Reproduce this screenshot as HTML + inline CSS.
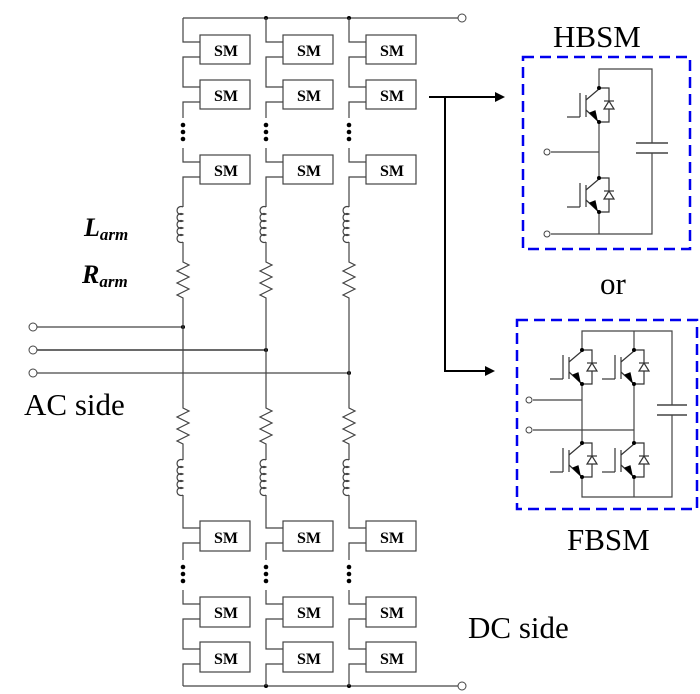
<!DOCTYPE html>
<html><head><meta charset="utf-8"><style>
html,body{margin:0;padding:0;background:#fff;}
svg{display:block;}
.sm{font-family:"Liberation Serif",serif;font-weight:bold;font-size:16px;}
.big{font-family:"Liberation Serif",serif;font-size:31px;}
.lab{font-family:"Liberation Serif",serif;font-size:26px;font-weight:bold;font-style:italic;}
.sub{font-size:17px;}
</style></head><body>
<svg width="700" height="694" viewBox="0 0 700 694" xmlns="http://www.w3.org/2000/svg">
<defs>
<g id="igbt" fill="none" stroke="#333" stroke-width="1.2">
  <line x1="-13" y1="7" x2="-13" y2="29"/>
  <line x1="-19" y1="5" x2="-19" y2="29"/>
  <line x1="-32" y1="29" x2="-19" y2="29"/>
  <line x1="0" y1="1" x2="-13" y2="12"/>
  <line x1="-13" y1="22" x2="0" y2="34"/>
  <polygon points="-2,32 -9,25 -4,23" fill="#000" stroke="#000"/>
  <polyline points="0,0 10,0 10,34 0,34"/>
  <polygon points="10,13 5,21 15,21" fill="#fff"/>
  <line x1="5" y1="13" x2="15" y2="13"/>
  <circle cx="0" cy="0" r="2" fill="#000" stroke="none"/>
  <circle cx="0" cy="34" r="2" fill="#000" stroke="none"/>
</g>
<g id="c1">
<g fill="none" stroke="#444" stroke-width="1.2">
<polyline points="0,18 0,42 17,42"/>
<polyline points="17,57 0,57 0,87 17,87"/>
<polyline points="17,102 0,102 0,118"/>
<polyline points="0,148 0,162 17,162"/>
<polyline points="17,177 0,177 0,207"/>
<path d="M0,207 a4,4 0 1 0 0,7 a4,4 0 1 0 0,7 a4,4 0 1 0 0,7 a4,4 0 1 0 0,7 a4,4 0 1 0 0,7"/>
<polyline points="0,242 0,262 6,265 -6,271 6,277 -6,283 6,289 -6,295 0,298 0,408 6,411 -6,417 6,423 -6,429 6,435 -6,441 0,444 0,460"/>
<path d="M0,460 a4,4 0 1 0 0,7 a4,4 0 1 0 0,7 a4,4 0 1 0 0,7 a4,4 0 1 0 0,7 a4,4 0 1 0 0,7"/>
<polyline points="0,495 0,528 17,528"/>
<polyline points="17,543 0,543 0,560"/>
<polyline points="0,590 0,604 17,604"/>
<polyline points="17,619 0,619 0,649 17,649"/>
<polyline points="17,664 0,664 0,686"/>
<rect x="17" y="35" width="50" height="29" fill="#fff"/>
<rect x="17" y="80" width="50" height="29" fill="#fff"/>
<rect x="17" y="155" width="50" height="29" fill="#fff"/>
<rect x="17" y="521" width="50" height="30" fill="#fff"/>
<rect x="17" y="597" width="50" height="30" fill="#fff"/>
<rect x="17" y="642" width="50" height="30" fill="#fff"/>
</g>
<g fill="#000">
<circle cx="0" cy="125" r="2.3"/><circle cx="0" cy="132" r="2.3"/><circle cx="0" cy="139" r="2.3"/>
<circle cx="0" cy="567" r="2.3"/><circle cx="0" cy="574" r="2.3"/><circle cx="0" cy="581" r="2.3"/>
</g>
</g>
</defs>

<g stroke="#444" stroke-width="1.2" fill="none">
<line x1="183" y1="18" x2="458" y2="18"/>
<line x1="183" y1="686" x2="458" y2="686"/>
<line x1="37" y1="327" x2="183" y2="327"/>
<line x1="37" y1="350" x2="266" y2="350" stroke="#111"/>
<line x1="37" y1="373" x2="349" y2="373" stroke="#666" stroke-width="1.5"/>
</g>
<g fill="#fff" stroke="#444">
<circle cx="462" cy="18" r="4"/><circle cx="462" cy="686" r="4"/>
<circle cx="33" cy="327" r="4"/><circle cx="33" cy="350" r="4"/><circle cx="33" cy="373" r="4"/>
</g>
<g fill="#000">
<circle cx="266" cy="18" r="2"/><circle cx="349" cy="18" r="2"/>
<circle cx="266" cy="686" r="2"/><circle cx="349" cy="686" r="2"/>
<circle cx="183" cy="327" r="2"/><circle cx="266" cy="350" r="2"/><circle cx="349" cy="373" r="2"/>
</g>

<use href="#c1" transform="translate(183,0)"/>
<use href="#c1" transform="translate(266,0)"/>
<use href="#c1" transform="translate(349,0)"/>

<g class="sm" fill="#000" text-anchor="middle">
<text x="226" y="56">SM</text><text x="226" y="101">SM</text><text x="226" y="176">SM</text>
<text x="226" y="543">SM</text><text x="226" y="618">SM</text><text x="226" y="664">SM</text>
<text x="309" y="56">SM</text><text x="309" y="101">SM</text><text x="309" y="176">SM</text>
<text x="309" y="543">SM</text><text x="309" y="618">SM</text><text x="309" y="664">SM</text>
<text x="392" y="56">SM</text><text x="392" y="101">SM</text><text x="392" y="176">SM</text>
<text x="392" y="543">SM</text><text x="392" y="618">SM</text><text x="392" y="664">SM</text>
</g>

<text class="lab" x="84" y="236">L<tspan class="sub" dy="4">arm</tspan></text>
<text class="lab" x="82" y="283">R<tspan class="sub" dy="4">arm</tspan></text>
<text class="big" x="24" y="415">AC side</text>
<text class="big" x="468" y="638">DC side</text>
<text class="big" x="553" y="47">HBSM</text>
<text class="big" x="600" y="294" font-size="27">or</text>
<text class="big" x="567" y="550">FBSM</text>

<g stroke="#000" stroke-width="2" fill="none">
<line x1="429" y1="97" x2="498" y2="97"/>
<polyline points="445,97 445,371 488,371"/>
</g>
<polygon points="505,97 495,92 495,102" fill="#000"/>
<polygon points="495,371 485,366 485,376" fill="#000"/>

<rect x="523" y="57" width="167" height="192" fill="none" stroke="#0000ee" stroke-width="2.5" stroke-dasharray="11,6"/>
<g fill="none" stroke="#444" stroke-width="1.2">
<polyline points="599,88 599,69 652,69 652,143"/>
<polyline points="652,153 652,234 551,234"/>
<line x1="599" y1="122" x2="599" y2="178"/>
<line x1="599" y1="212" x2="599" y2="234"/>
<line x1="551" y1="152" x2="599" y2="152"/>
<line x1="636" y1="143" x2="668" y2="143" stroke-width="1.6"/>
<line x1="636" y1="153" x2="668" y2="153" stroke-width="1.6"/>
</g>
<use href="#igbt" transform="translate(599,88)"/>
<use href="#igbt" transform="translate(599,178)"/>
<circle cx="547" cy="152" r="3" fill="#fff" stroke="#444"/>
<circle cx="547" cy="234" r="3" fill="#fff" stroke="#444"/>

<rect x="517" y="320" width="180" height="189" fill="none" stroke="#0000ee" stroke-width="2.5" stroke-dasharray="11,6"/>
<g fill="none" stroke="#444" stroke-width="1.2">
<polyline points="582,350 582,331 672,331 672,405"/>
<line x1="634" y1="331" x2="634" y2="350"/>
<polyline points="672,415 672,497 582,497 582,477"/>
<line x1="634" y1="497" x2="634" y2="477"/>
<line x1="582" y1="384" x2="582" y2="443"/>
<line x1="634" y1="384" x2="634" y2="443"/>
<line x1="533" y1="400" x2="582" y2="400"/>
<line x1="533" y1="430" x2="634" y2="430"/>
<line x1="657" y1="405" x2="687" y2="405" stroke-width="1.6"/>
<line x1="657" y1="415" x2="687" y2="415" stroke-width="1.6"/>
</g>
<use href="#igbt" transform="translate(582,350)"/>
<use href="#igbt" transform="translate(634,350)"/>
<use href="#igbt" transform="translate(582,443)"/>
<use href="#igbt" transform="translate(634,443)"/>
<circle cx="529" cy="400" r="3" fill="#fff" stroke="#444"/>
<circle cx="529" cy="430" r="3" fill="#fff" stroke="#444"/>
</svg>
</body></html>
